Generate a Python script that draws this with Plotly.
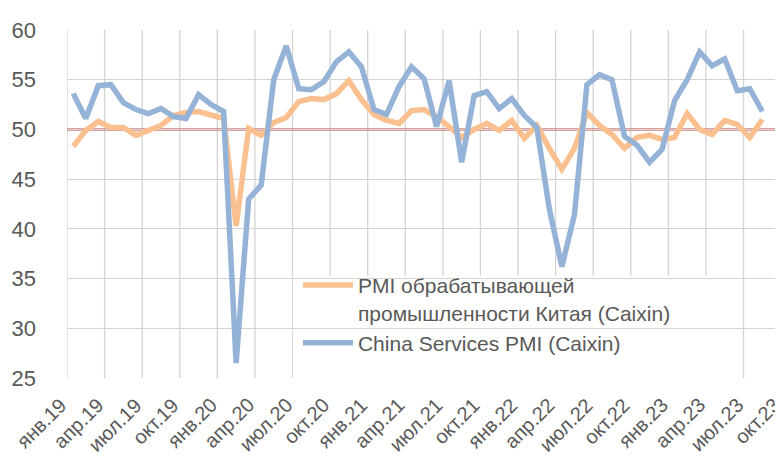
import plotly.graph_objects as go

month_abbr = ["янв", "фев", "мар", "апр", "май", "июн", "июл", "авг", "сен", "окт", "ноя", "дек"]
years = [19, 20, 21, 22, 23]
categories = [f"{m}.{y}" for y in years for m in month_abbr][:58]  # янв.19 .. окт.23

manufacturing = [
    48.3, 49.9, 50.8, 50.2, 50.2, 49.4, 49.9, 50.4, 51.4, 51.7, 51.8, 51.5,
    51.1, 40.3, 50.1, 49.4, 50.7, 51.2, 52.8, 53.1, 53.0, 53.6, 54.9, 53.0,
    51.5, 50.9, 50.6, 51.9, 52.0, 51.3, 50.3, 49.2, 50.0, 50.6, 49.9, 50.9,
    49.1, 50.4, 48.1, 46.0, 48.1, 51.7, 50.4, 49.5, 48.1, 49.2, 49.4, 49.0,
    49.2, 51.6, 50.0, 49.5, 50.9, 50.5, 49.2, 51.0,
]
services = [
    53.6, 51.1, 54.4, 54.5, 52.7, 52.0, 51.6, 52.1, 51.3, 51.1, 53.5, 52.5,
    51.8, 26.5, 43.0, 44.4, 55.0, 58.4, 54.1, 54.0, 54.8, 56.8, 57.8, 56.3,
    52.0, 51.5, 54.3, 56.3, 55.1, 50.3, 54.9, 46.7, 53.4, 53.8, 52.1, 53.1,
    51.4, 50.2, 42.0, 36.2, 41.4, 54.5, 55.5, 55.0, 49.3, 48.4, 46.7, 48.0,
    52.9, 55.0, 57.8, 56.4, 57.1, 53.9, 54.1, 51.8,
]
threshold = 50
y_ticks = [25, 30, 35, 40, 45, 50, 55, 60]

name_manuf = "PMI обрабатывающей<br>промышленности Китая (Caixin)"
name_serv = "China Services PMI (Caixin)"

x_idx = list(range(len(categories)))
label_idx = x_idx[::3]
label_text = [categories[i] for i in label_idx]
boundaries = [i - 0.5 for i in range(0, len(categories) + 1, 3)]
x_range = [-0.5, 57.29]

font_family = "Liberation Sans, Arial, sans-serif"
text_color = "#595959"
grid_color = "#D4D4D4"

fig = go.Figure()
fig.add_trace(go.Scatter(
    x=x_idx[:len(manufacturing)], y=manufacturing, mode="lines", name=name_manuf,
    line=dict(color="#FAC08F", width=5.5),
))
fig.add_trace(go.Scatter(
    x=x_idx[:len(services)], y=services, mode="lines", name=name_serv,
    line=dict(color="#95B3D7", width=5.5),
))
# vertical grid lines at category-group boundaries
for b in boundaries:
    fig.add_shape(type="line", xref="x", yref="paper", x0=b, x1=b, y0=0, y1=1,
                  line=dict(color=grid_color, width=1.3), layer="between")
# white legend panel hiding the grid
fig.add_shape(type="rect", xref="paper", yref="paper", x0=0.312, x1=0.916, y0=0, y1=0.293,
              fillcolor="white", line=dict(width=0), layer="between")
# threshold line at 50
fig.add_shape(type="line", xref="paper", yref="y", x0=0, x1=1, y0=threshold, y1=threshold,
              line=dict(color="#C0403C", width=2), layer="between", opacity=1)

# rotated category labels: top-right corner at the category, like the source chart
for pos, txt in zip(label_idx, label_text):
    fig.add_annotation(
        x=pos, y=0, xref="x", yref="paper", text=txt, showarrow=False,
        textangle=-45, xanchor="right", yanchor="top", xshift=0, yshift=-13,
        font=dict(size=20, color=text_color, family=font_family),
    )

fig.update_layout(
    width=783, height=456,
    margin=dict(l=59, r=0, t=22, b=86),
    paper_bgcolor="white", plot_bgcolor="white",
    font=dict(family=font_family, color=text_color),
    showlegend=True,
    legend=dict(
        x=0.319, y=0.325, xanchor="left", yanchor="top",
        bgcolor="rgba(0,0,0,0)", borderwidth=0,
        font=dict(size=21, color=text_color, family=font_family),
        valign="top", tracegroupgap=0,
        itemwidth=50,
    ),
    xaxis=dict(
        range=x_range, showticklabels=False,
        showgrid=False, zeroline=False, showline=False, ticks="",
    ),
    yaxis=dict(
        range=[25, 60], tickmode="array", tickvals=y_ticks,
        showgrid=True, gridcolor=grid_color, gridwidth=1.3,
        zeroline=False, showline=False, ticks="",
        tickfont=dict(size=22, color=text_color),
        ticklabelstandoff=30,
    ),
)

fig.write_html("out.html")
